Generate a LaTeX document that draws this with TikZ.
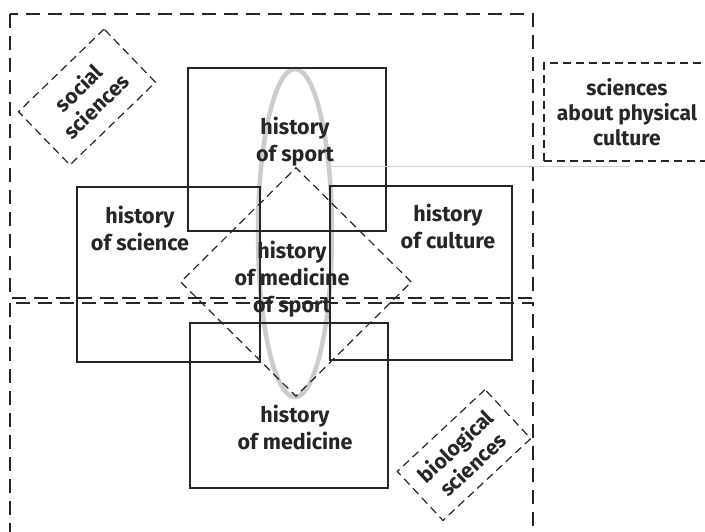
\documentclass[tikz,border=0pt]{standalone}
\usepackage{fontspec}
\setmainfont{Fira Sans}
\usetikzlibrary{positioning,shapes.geometric}
\definecolor{ink}{HTML}{262626}
\tikzstyle{field}=[draw=ink,line width=1.4pt,dash pattern=on 14pt off 8pt]
\tikzstyle{area}=[draw=ink,line width=1.2pt,dash pattern=on 8pt off 5pt,inner sep=0pt,align=center,text=ink,font=\bfseries\fontsize{21}{25}\selectfont]
\tikzstyle{subject}=[draw=ink,line width=1.3pt,inner sep=0pt]
\tikzstyle{subjtext}=[align=center,text=ink,font=\bfseries\fontsize{21.5}{27}\selectfont]

\begin{document}
\begin{tikzpicture}[x=1pt,y=-1pt]
            \useasboundingbox (0,0) rectangle (705,531);
            \clip (0,0) rectangle (705,531);
            % the two big fields
            \draw[field] (10,14) rectangle (533,298);
            \draw[field] (10,303) rectangle (533,560);
            % sport axis
            \draw[gray!40,line width=4.5pt] (295,233) ellipse [x radius=37, y radius=164];
            \draw
                node[subject,minimum width=198pt,minimum height=163pt] (sport) at (287,149.5) {}
                node[subject,minimum width=183pt,minimum height=175pt] (science) at (168.5,274.5) {}
                node[subject,minimum width=182pt,minimum height=174pt] (culture) at (421,273) {}
                node[subject,minimum width=198pt,minimum height=165pt] (medicine) at (289,405.5) {}
                ;
            \draw
                node[subjtext] (sporttxt) at (295,142) {history\\of sport}
                node[subjtext] (sciencetxt) at (140,228) {history\\of science}
                node[subjtext] (culturetxt) at (448,226) {history\\of culture}
                node[subjtext] (medicinetxt) at (295,427) {history\\of medicine}
                ;
            \node[diamond,area,minimum width=231pt,minimum height=229pt] (core) at (296,282) {};
            \node[subjtext] (coretxt) at (292,279) {history\\of medicine\\of sport};
            % outer areas
            \draw
                node[area,rotate=44,minimum width=119pt,minimum height=74pt] (social) at (87,97) {social\\sciences}
                node[area,rotate=43,minimum width=120pt,minimum height=67pt] (bio) at (464,455) {biological\\sciences}
                node[area,minimum width=166pt,minimum height=98pt] (physical) at (627,112) {sciences\\about physical\\culture}
                ;
            \coordinate (linestart) at (330,166);
            \coordinate (lineend) at (630,166);
            \draw[gray!35,line width=1pt] (linestart) -- (lineend);
        \end{tikzpicture}
\end{document}
